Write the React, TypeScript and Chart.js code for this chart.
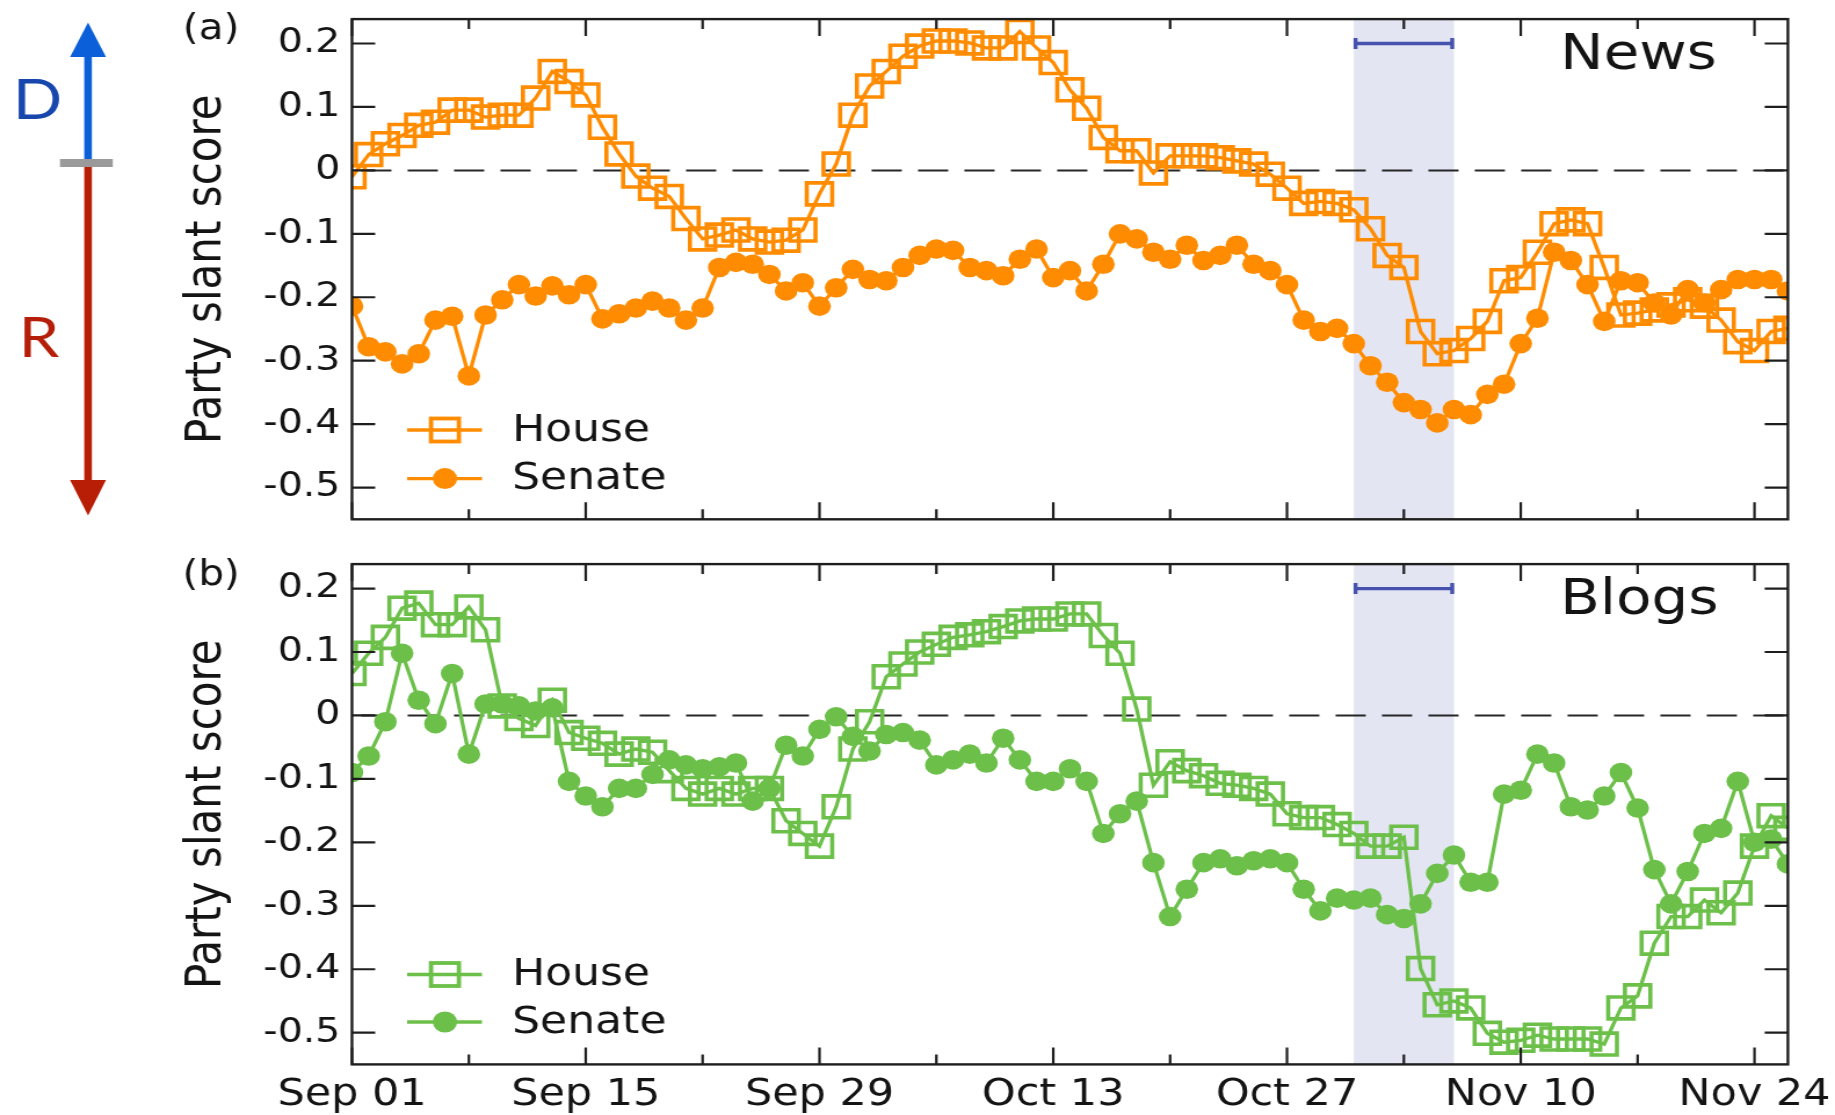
import React, { useEffect, useRef } from 'react';
import { Chart, registerables } from 'chart.js';

Chart.register(...registerables);

// ---------- data (x = day index from Sep 01) ----------
const newsHouse = [
  -0.010, 0.025, 0.042, 0.055, 0.071, 0.076, 0.095, 0.095, 0.084, 0.087,
  0.087, 0.114, 0.156, 0.140, 0.119, 0.068, 0.026, -0.009, -0.028, -0.041,
  -0.076, -0.108, -0.102, -0.094, -0.108, -0.113, -0.110, -0.094, -0.037, 0.010,
  0.087, 0.133, 0.156, 0.180, 0.196, 0.204, 0.204, 0.201, 0.193, 0.193,
  0.219, 0.193, 0.170, 0.127, 0.098, 0.052, 0.031, 0.031, -0.004, 0.023,
  0.023, 0.023, 0.020, 0.015, 0.010, -0.006, -0.028, -0.052, -0.049, -0.052,
  -0.062, -0.092, -0.134, -0.153, -0.254, -0.289, -0.284, -0.265, -0.238, -0.174,
  -0.169, -0.129, -0.084, -0.078, -0.084, -0.153, -0.228, -0.225, -0.220, -0.212,
  -0.204, -0.214, -0.236, -0.270, -0.284, -0.254, -0.249,
];
const newsSenate = [
  -0.214, -0.278, -0.286, -0.305, -0.289, -0.236, -0.230, -0.324, -0.228, -0.204,
  -0.180, -0.198, -0.182, -0.196, -0.180, -0.234, -0.226, -0.217, -0.206, -0.217,
  -0.236, -0.217, -0.153, -0.145, -0.148, -0.164, -0.190, -0.177, -0.214, -0.185,
  -0.156, -0.172, -0.174, -0.153, -0.134, -0.124, -0.126, -0.153, -0.158, -0.166,
  -0.140, -0.124, -0.169, -0.158, -0.190, -0.148, -0.100, -0.108, -0.129, -0.140,
  -0.118, -0.142, -0.134, -0.118, -0.148, -0.158, -0.180, -0.236, -0.254, -0.249,
  -0.273, -0.308, -0.334, -0.366, -0.377, -0.398, -0.377, -0.385, -0.353, -0.337,
  -0.273, -0.233, -0.129, -0.142, -0.180, -0.238, -0.174, -0.177, -0.209, -0.228,
  -0.188, -0.209, -0.188, -0.172, -0.172, -0.172, -0.190,
];
const blogsHouse = [
  0.066, 0.098, 0.123, 0.169, 0.177, 0.143, 0.143, 0.171, 0.135, 0.015,
  -0.005, -0.016, 0.024, -0.027, -0.036, -0.044, -0.061, -0.053, -0.058, -0.087,
  -0.115, -0.124, -0.115, -0.124, -0.115, -0.115, -0.166, -0.186, -0.206, -0.144,
  -0.053, -0.010, 0.061, 0.081, 0.100, 0.112, 0.123, 0.127, 0.132, 0.140,
  0.149, 0.152, 0.152, 0.160, 0.160, 0.126, 0.098, 0.010, -0.110, -0.073,
  -0.087, -0.095, -0.107, -0.110, -0.115, -0.124, -0.155, -0.161, -0.161, -0.172,
  -0.186, -0.206, -0.206, -0.192, -0.399, -0.456, -0.450, -0.461, -0.501, -0.515,
  -0.512, -0.504, -0.510, -0.510, -0.510, -0.518, -0.461, -0.442, -0.359, -0.317,
  -0.317, -0.291, -0.311, -0.280, -0.206, -0.158, -0.178,
];
const blogsSenate = [
  -0.090, -0.064, -0.010, 0.098, 0.024, -0.013, 0.066, -0.061, 0.018, 0.018,
  0.015, 0.007, 0.012, -0.104, -0.127, -0.144, -0.115, -0.115, -0.093, -0.070,
  -0.078, -0.084, -0.081, -0.075, -0.135, -0.115, -0.047, -0.064, -0.022, -0.002,
  -0.033, -0.056, -0.030, -0.027, -0.039, -0.078, -0.070, -0.061, -0.075, -0.036,
  -0.070, -0.104, -0.104, -0.084, -0.104, -0.186, -0.155, -0.135, -0.232, -0.317,
  -0.274, -0.232, -0.226, -0.237, -0.229, -0.226, -0.232, -0.274, -0.308, -0.288,
  -0.291, -0.288, -0.314, -0.320, -0.297, -0.249, -0.220, -0.263, -0.263, -0.124,
  -0.118, -0.061, -0.075, -0.144, -0.149, -0.127, -0.090, -0.146, -0.243, -0.297,
  -0.246, -0.186, -0.178, -0.104, -0.200, -0.195, -0.234,
];

const xTickDays = [0, 14, 28, 42, 56, 70, 84];
const xTickLabels = ['Sep 01', 'Sep 15', 'Sep 29', 'Oct 13', 'Oct 27', 'Nov 10', 'Nov 24'];
const xMinorDays = [7, 21, 35, 49, 63, 77];
const yTickValues = [0.2, 0.1, 0, -0.1, -0.2, -0.3, -0.4, -0.5];
const bandDays = [60, 66];
const bracketValue = 0.2;
const seriesNames = ['House', 'Senate'];

// ---------- layout ----------
const FULL_W = 1835;
const SX = 1.16; // reference is horizontally stretched
const IW = Math.round(FULL_W / SX);
const PLOT_LEFT = 352 / SX;
const PLOT_RIGHT = 1788 / SX;
const FONT = '"DejaVu Sans", Verdana, sans-serif';
const TEXT = '#141414';
const ORANGE = '#ff8c00';
const GREEN = '#6cc04a';

type PanelCfg = {
  key: string;
  house: number[];
  senate: number[];
  color: string;
  label: string;
  title: string;
  height: number;
  xAxisH: number;
  showX: boolean;
  arrow: boolean;
  legendY: number[];
  labelY: number;
  titleY: number;
};

function makeDecor(cfg: PanelCfg) {
  return {
    id: 'decor_' + cfg.key,
    beforeDatasetsDraw(chart: any) {
      const { ctx, chartArea: a, scales } = chart;
      const x = scales.x, y = scales.y;
      ctx.save();
      const bx0 = x.getPixelForValue(bandDays[0]);
      const bx1 = x.getPixelForValue(bandDays[1]);
      ctx.fillStyle = '#e3e5f2';
      ctx.fillRect(bx0, a.top, bx1 - bx0, a.bottom - a.top);
      // zero line
      const y0 = y.getPixelForValue(0);
      ctx.setLineDash([26, 14]);
      ctx.lineDashOffset = -8;
      ctx.strokeStyle = '#262626';
      ctx.lineWidth = 2;
      ctx.beginPath();
      ctx.moveTo(a.left, y0);
      ctx.lineTo(a.right, y0);
      ctx.stroke();
      ctx.setLineDash([]);
      // bracket
      const yb = y.getPixelForValue(bracketValue);
      ctx.strokeStyle = '#4652ae';
      ctx.lineWidth = 3.3;
      ctx.beginPath();
      ctx.moveTo(bx0 + 1.5, yb);
      ctx.lineTo(bx1 - 1.5, yb);
      ctx.stroke();
      ctx.lineWidth = 3.4;
      ctx.beginPath();
      ctx.moveTo(bx0 + 1.5, yb - 5.5);
      ctx.lineTo(bx0 + 1.5, yb + 5.5);
      ctx.moveTo(bx1 - 1.5, yb - 5.5);
      ctx.lineTo(bx1 - 1.5, yb + 5.5);
      ctx.stroke();
      ctx.restore();
    },
    afterDraw(chart: any) {
      const { ctx, chartArea: a, scales } = chart;
      const x = scales.x, y = scales.y;
      ctx.save();
      // frame
      ctx.strokeStyle = '#1e1e1e';
      ctx.lineWidth = 2.4;
      ctx.strokeRect(a.left, a.top, a.right - a.left, a.bottom - a.top);
      // ticks
      ctx.lineWidth = 2.2;
      ctx.beginPath();
      yTickValues.forEach((v) => {
        const py = y.getPixelForValue(v);
        ctx.moveTo(a.left, py);
        ctx.lineTo(a.left + 20, py);
        ctx.moveTo(a.right, py);
        ctx.lineTo(a.right - 20, py);
      });
      xTickDays.forEach((d) => {
        const px = x.getPixelForValue(d);
        ctx.moveTo(px, a.bottom);
        ctx.lineTo(px, a.bottom - 17);
        ctx.moveTo(px, a.top);
        ctx.lineTo(px, a.top + 17);
      });
      xMinorDays.forEach((d) => {
        const px = x.getPixelForValue(d);
        ctx.moveTo(px, a.bottom);
        ctx.lineTo(px, a.bottom - 10);
        ctx.moveTo(px, a.top);
        ctx.lineTo(px, a.top + 10);
      });
      ctx.stroke();

      // panel texts
      ctx.fillStyle = TEXT;
      ctx.textBaseline = 'middle';
      ctx.textAlign = 'center';
      ctx.font = `35px ${FONT}`;
      ctx.fillText(cfg.label, 182, cfg.labelY);
      ctx.textAlign = 'left';
      ctx.font = `50px ${FONT}`;
      ctx.fillText(cfg.title, 1345, cfg.titleY);
      // y title
      ctx.save();
      ctx.translate(179, (a.top + a.bottom) / 2);
      ctx.rotate(-Math.PI / 2);
      ctx.textAlign = 'center';
      ctx.font = `42px ${FONT}`;
      ctx.fillText('Party slant score', 0, 0);
      ctx.restore();

      // legend
      const lx1 = 351, lx2 = 415.5, mcx = 383.6, tx = 441.4;
      cfg.legendY.forEach((ly, i) => {
        ctx.strokeStyle = cfg.color;
        ctx.lineWidth = 3.4;
        ctx.beginPath();
        ctx.moveTo(lx1, ly);
        ctx.lineTo(lx2, ly);
        ctx.stroke();
        if (i === 0) {
          ctx.lineWidth = 3.8;
          ctx.strokeRect(mcx - 12, ly - 11.5, 24, 23);
        } else {
          ctx.fillStyle = cfg.color;
          ctx.beginPath();
          ctx.arc(mcx, ly, 10.5, 0, Math.PI * 2);
          ctx.fill();
        }
        ctx.fillStyle = TEXT;
        ctx.textAlign = 'left';
        ctx.font = `38px ${FONT}`;
        ctx.fillText(seriesNames[i], tx, ly + 1);
      });

      // D / R arrow
      if (cfg.arrow) {
        const ax = 75.9;
        ctx.fillStyle = '#0b5fd9';
        ctx.fillRect(ax - 3.3, 55, 6.6, 106);
        ctx.beginPath();
        ctx.moveTo(ax, 22.4);
        ctx.lineTo(ax - 15.5, 57);
        ctx.lineTo(ax + 15.5, 57);
        ctx.closePath();
        ctx.fill();
        ctx.fillStyle = '#b81d05';
        ctx.fillRect(ax - 3.3, 166, 6.6, 316);
        ctx.beginPath();
        ctx.moveTo(ax, 515.5);
        ctx.lineTo(ax - 15.5, 480);
        ctx.lineTo(ax + 15.5, 480);
        ctx.closePath();
        ctx.fill();
        ctx.fillStyle = '#9a9a9a';
        ctx.fillRect(51.7, 159, 45.5, 8);
        ctx.textAlign = 'center';
        ctx.font = `56px Lato, "Open Sans", sans-serif`;
        ctx.fillStyle = '#1746ad';
        ctx.fillText('D', 32.3, 101);
        ctx.fillStyle = '#b51e08';
        ctx.fillText('R', 33.6, 339);
      }
      ctx.restore();
    },
  };
}

function Panel({ cfg }: { cfg: PanelCfg }) {
  const ref = useRef<HTMLCanvasElement | null>(null);
  useEffect(() => {
    if (!ref.current) return;
    const toPts = (arr: number[]) => arr.map((v, i) => ({ x: i, y: v }));
    const chart = new Chart(ref.current, {
      type: 'line',
      data: {
        datasets: [
          {
            label: seriesNames[0],
            data: toPts(cfg.house),
            borderColor: cfg.color,
            borderWidth: 3.3,
            pointStyle: 'rect',
            pointRadius: 15.5,
            pointBorderWidth: 3.6,
            pointBorderColor: cfg.color,
            pointBackgroundColor: 'rgba(0,0,0,0)',
            tension: 0,
            fill: false,
          },
          {
            label: seriesNames[1],
            data: toPts(cfg.senate),
            borderColor: cfg.color,
            borderWidth: 3.3,
            pointStyle: 'circle',
            pointRadius: 9.8,
            pointBorderWidth: 0,
            pointBackgroundColor: cfg.color,
            tension: 0,
            fill: false,
          },
        ],
      },
      options: {
        animation: false,
        responsive: false,
        devicePixelRatio: 1,
        events: [],
        layout: { padding: { top: 10.3, right: IW - PLOT_RIGHT, left: 0, bottom: 0 } },
        plugins: { legend: { display: false }, tooltip: { enabled: false } },
        scales: {
          x: {
            type: 'linear',
            min: 0,
            max: 86,
            grid: { display: false, drawTicks: false },
            border: { display: false },
            afterBuildTicks: (s: any) => {
              s.ticks = xTickDays.map((v) => ({ value: v }));
            },
            afterFit: (s: any) => {
              s.height = cfg.xAxisH;
              s.paddingLeft = 0;
              s.paddingRight = 0;
            },
            ticks: {
              display: cfg.showX,
              autoSkip: false,
              maxRotation: 0,
              padding: 9,
              color: TEXT,
              font: { family: FONT, size: 37 },
              callback: (v: any) => {
                const idx = xTickDays.indexOf(Number(v));
                return idx >= 0 ? xTickLabels[idx] : '';
              },
            },
          },
          y: {
            type: 'linear',
            min: -0.55,
            max: 0.2385,
            grid: { display: false, drawTicks: false },
            border: { display: false },
            afterBuildTicks: (s: any) => {
              s.ticks = yTickValues.map((v) => ({ value: v }));
            },
            afterFit: (s: any) => {
              s.width = PLOT_LEFT;
              s.paddingTop = 0;
              s.paddingBottom = 0;
            },
            ticks: {
              padding: 10,
              color: TEXT,
              font: { family: FONT, size: 34 },
              callback: (v: any) => (Math.abs(Number(v)) < 1e-9 ? '0' : Number(v).toFixed(1)),
            },
          },
        },
      },
      plugins: [makeDecor(cfg)],
    } as any);
    return () => chart.destroy();
  }, [cfg]);
  return (
    <canvas
      ref={ref}
      width={IW}
      height={cfg.height}
      style={{ width: FULL_W + 'px', height: cfg.height + 'px', display: 'block' }}
    />
  );
}

const panelA: PanelCfg = {
  key: 'a',
  house: newsHouse,
  senate: newsSenate,
  color: ORANGE,
  label: '(a)',
  title: 'News',
  height: 545,
  xAxisH: 25.7,
  showX: false,
  arrow: true,
  legendY: [430, 478.6],
  labelY: 30,
  titleY: 56.5,
};

const panelB: PanelCfg = {
  key: 'b',
  house: blogsHouse,
  senate: blogsSenate,
  color: GREEN,
  label: '(b)',
  title: 'Blogs',
  height: 570,
  xAxisH: 50.6,
  showX: true,
  arrow: false,
  legendY: [429.5, 477],
  labelY: 30.6,
  titleY: 56.5,
};

export default function App() {
  return (
    <div
      style={{
        position: 'absolute',
        left: 0,
        top: 0,
        width: FULL_W,
        height: 1115,
        background: '#ffffff',
        overflow: 'hidden',
      }}
    >
      <Panel cfg={panelA} />
      <Panel cfg={panelB} />
    </div>
  );
}
